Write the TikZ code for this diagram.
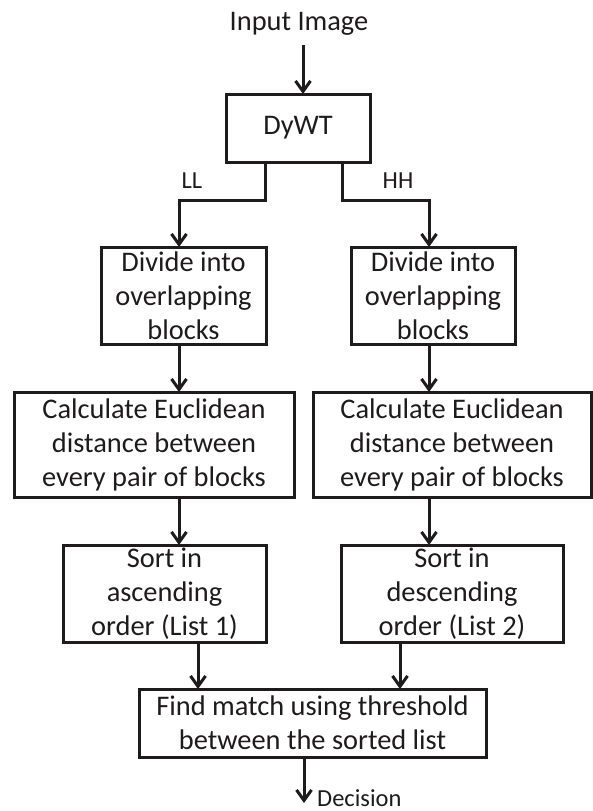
\documentclass[tikz,border=0pt]{standalone}
\usepackage{fontspec}
\setmainfont{Carlito}
\usetikzlibrary{arrows.meta}
\definecolor{ink}{RGB}{30,27,28}
\begin{document}
\begin{tikzpicture}[x=1pt,y=-1pt,
  box/.style={draw=ink, line width=3pt, inner sep=0pt, outer sep=0pt, align=center,
    font=\fontsize{28.4}{34}\selectfont, text=ink},
  arr/.style={draw=ink, line width=3pt, -{Straight Barb[length=10.5pt,width=15pt]}},
  big/.style={font=\fontsize{28.4}{34}\selectfont, text=ink, inner sep=0pt},
  lbl/.style={font=\fontsize{24.5}{28}\selectfont, text=ink, inner sep=0pt}]
\useasboundingbox (0,0) rectangle (592,811);
\fill[white] (0,0) rectangle (592,811);

\node[big, anchor=base] (in) at (299,30) {Input Image};
\node[box, minimum width=144pt, minimum height=68pt] (dywt) at (298,128) {DyWT};

\node[box, minimum width=165pt, minimum height=97pt] (divL) at (183.5,295.5) {Divide into\\overlapping\\blocks};
\node[box, minimum width=164pt, minimum height=97pt] (divR) at (433,295.5) {Divide into\\overlapping\\blocks};

\node[box, minimum width=280pt, minimum height=105pt] (calcL) at (154,444.5) {Calculate Euclidean\\distance between\\every pair of blocks};
\node[box, minimum width=278pt, minimum height=105pt] (calcR) at (452,444.5) {Calculate Euclidean\\distance between\\every pair of blocks};

\node[box, minimum width=203pt, minimum height=97pt] (sortL) at (164.5,593.5) {Sort in\\ascending\\order (List 1)};
\node[box, minimum width=222pt, minimum height=97pt] (sortR) at (452,593.5) {Sort in\\descending\\order (List 2)};

\node[box, minimum width=347pt, minimum height=68pt] (find) at (312.5,723) {Find match using threshold\\between the sorted list};

\node[lbl, anchor=base] (ll) at (192,188) {LL};
\node[lbl, anchor=base] (hh) at (398,188) {HH};
\node[lbl, anchor=base west] (dec) at (317,806) {Decision};

\draw[arr] ([xshift=4pt,yshift=-15pt]in.base) -- ([xshift=5pt]dywt.north);

\draw[arr] ([xshift=-33pt]dywt.south) -- ++(0,38) -| ([xshift=-4.5pt]divL.north);
\draw[arr] ([xshift=44pt]dywt.south) -- ++(0,38) -| ([xshift=-4pt]divR.north);

\draw[arr] ([xshift=-4.5pt]divL.south) -- ([xshift=-4.5pt]divL.south |- calcL.north);
\draw[arr] ([xshift=-4pt]divR.south) -- ([xshift=-4pt]divR.south |- calcR.north);

\draw[arr] ([xshift=-4.5pt]divL.south |- calcL.south) -- ([xshift=-4.5pt]divL.south |- sortL.north);
\draw[arr] ([xshift=-4pt]divR.south |- calcR.south) -- ([xshift=-4pt]divR.south |- sortR.north);

\draw[arr] ([xshift=33.5pt]sortL.south) -- ([xshift=33.5pt]sortL.south |- find.north);
\draw[arr] ([xshift=-52pt]sortR.south) -- ([xshift=-52pt]sortR.south |- find.north);

\draw[arr] ([xshift=-8.5pt]find.south) -- ++(0,46);
\end{tikzpicture}
\end{document}
